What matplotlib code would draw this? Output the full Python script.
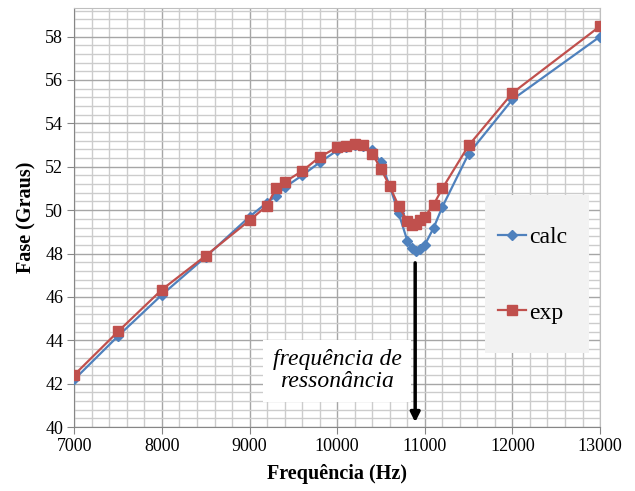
import matplotlib
matplotlib.use("Agg")
import matplotlib.pyplot as plt
from matplotlib.patches import Rectangle
from matplotlib.ticker import MultipleLocator

plt.rcParams['font.family'] = ['Liberation Serif', 'DejaVu Serif']

# frequency points (Hz)
freq = [7000, 7500, 8000, 8500, 9000, 9200, 9300, 9400, 9600, 9800,
        10000, 10100, 10200, 10300, 10400, 10500, 10600, 10700, 10800,
        10850, 10900, 10950, 11000, 11100, 11200, 11500, 12000, 13000]

# phase in degrees
calc = [42.2, 44.2, 46.1, 47.85, 49.7, 50.35, 50.65, 51.05, 51.6, 52.2,
        52.75, 52.9, 53.0, 52.95, 52.75, 52.2, 51.1, 49.87, 48.6,
        48.25, 48.1, 48.2, 48.4, 49.18, 50.15, 52.6, 55.1, 58.0]
exp = [42.41, 44.41, 46.34, 47.9, 49.53, 50.21, 51.0, 51.3, 51.8, 52.45,
       52.9, 52.95, 53.05, 53.0, 52.6, 51.9, 51.1, 50.2, 49.5,
       49.3, 49.35, 49.55, 49.7, 50.25, 51.0, 52.98, 55.4, 58.48]

res_freq = 10890

fig = plt.figure(figsize=(6.35, 4.91), dpi=100)
ax = fig.add_axes([0.117, 0.13, 0.828, 0.853])

ax.plot(freq, calc, color='#4f81bd', lw=1.6, marker='D', ms=5, label='calc', zorder=3)
ax.plot(freq, exp, color='#c0504d', lw=1.6, marker='s', ms=7, label='exp', zorder=4)

ax.set_xlim(7000, 13000)
ax.set_ylim(40, 59.3)
ax.xaxis.set_major_locator(MultipleLocator(1000))
ax.xaxis.set_minor_locator(MultipleLocator(200))
ax.yaxis.set_major_locator(MultipleLocator(2))
ax.yaxis.set_minor_locator(MultipleLocator(0.4))
ax.grid(which='major', color='#a6a6a6', lw=1.0, zorder=0)
ax.grid(which='minor', color='#cccccc', lw=1.0, zorder=0)
ax.set_axisbelow(True)

ax.tick_params(which='major', direction='out', length=5, color='#868686',
               labelsize=13, pad=3)
ax.tick_params(which='minor', length=0)
for s in ['left', 'bottom']:
    ax.spines[s].set_color('#868686')
for s in ['top', 'right']:
    ax.spines[s].set_color('#bfbfbf')

ax.set_xlabel('Frequência (Hz)', fontsize=14.5, fontweight='bold', labelpad=6)
ax.set_ylabel('Fase (Graus)', fontsize=14.5, fontweight='bold', labelpad=6)

# legend: grey panel + frameless entries
ax.add_patch(Rectangle((0.781, 0.177), 0.198, 0.377, transform=ax.transAxes,
                       facecolor='#f2f2f2', edgecolor='none', zorder=5))
leg = ax.legend(loc='center left', bbox_to_anchor=(0.805, 0.3635), fontsize=17,
                frameon=False, labelspacing=2.3, borderpad=0,
                handlelength=1.2, handletextpad=0.15, borderaxespad=0)
leg.set_zorder(6)

ax.text(10000, 42.6, 'frequência de\nressonância', fontsize=17, style='italic',
        ha='center', va='center', linespacing=1.05, zorder=5,
        bbox=dict(facecolor='white', edgecolor='none', pad=7))

ax.annotate('', xy=(res_freq, 40.1), xytext=(res_freq, 47.7),
            arrowprops=dict(arrowstyle='-|>', color='black', lw=2.5,
                            mutation_scale=14), zorder=6)

fig.savefig('out.png', dpi=100)
